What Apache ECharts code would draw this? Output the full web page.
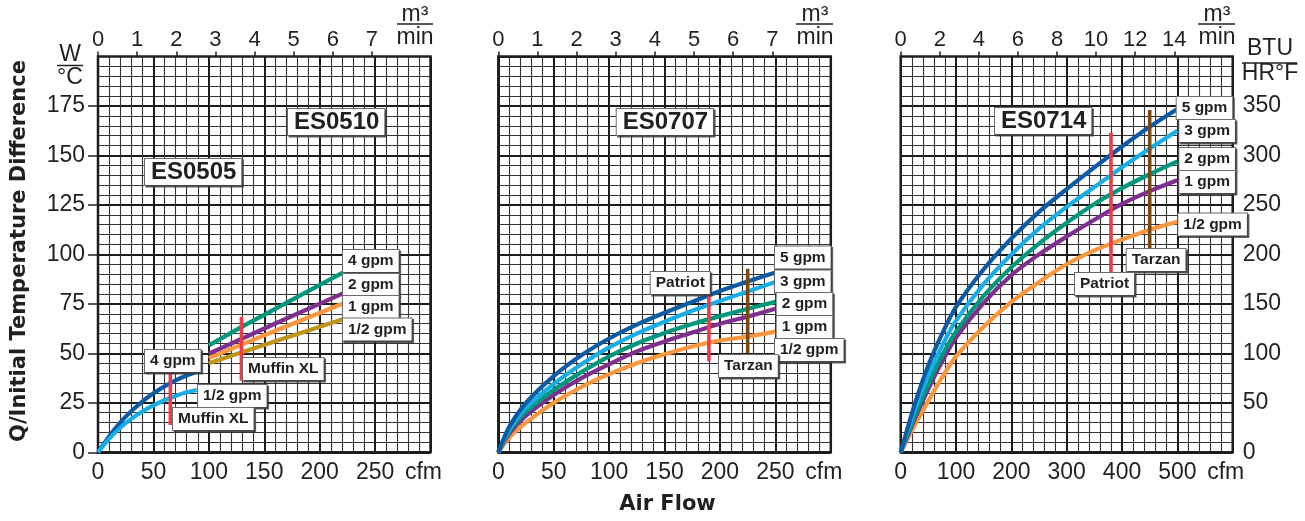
<!DOCTYPE html>
<html><head><meta charset="utf-8">
<script src="https://cdn.jsdelivr.net/npm/echarts@6/dist/echarts.min.js"></script>
<style>html,body{margin:0;padding:0;background:#fff;}#c{width:1305px;height:521px;}</style>
</head><body><div id="c"></div>
<script>
// ---------------- data ----------------
// tick labels
const wTicks   = [0, 25, 50, 75, 100, 125, 150, 175];          // W/°C (left axis)
const btuTicks = [0, 50, 100, 150, 200, 250, 300, 350];        // BTU/HR°F (right axis)
const cfmTicksA = [0, 50, 100, 150, 200, 250];                 // cfm, panels 1-2
const cfmTicksB = [0, 100, 200, 300, 400, 500];                // cfm, panel 3
const m3TicksA = [0, 1, 2, 3, 4, 5, 6, 7];                     // m³/min, panels 1-2
const m3TicksB = [0, 2, 4, 6, 8, 10, 12, 14];                  // m³/min, panel 3

// ES0505 (W/°C vs cfm)
const es0505_4gpm  = [[0,0],[10,8],[20,15],[30,20.7],[40,25.6],[50,29.8],[60,33.3],[70,36.3],[80,38.8],[92,41.3]];
const es0505_half  = [[0,0],[10,6.8],[20,12.4],[30,16.9],[40,20.6],[50,23.7],[60,26.3],[70,28.5],[80,30.3],[89,31.5]];
// ES0510
const es0510_4gpm  = [[100,54],[130,63.5],[160,72.5],[190,81.6],[221,90.8]];
const es0510_2gpm  = [[100,49.8],[160,65.1],[221,80.3]];
const es0510_1gpm  = [[100,47.6],[160,61.4],[221,75.2]];
const es0510_half  = [[100,45],[160,56.1],[221,67.2]];
// ES0707
const es0707_5gpm  = [[0,0],[10,13],[25,25],[50,38.5],[75,49],[100,57.5],[125,64.5],[150,70.5],[175,76],[200,81.5],[225,86.3],[250,90.8]];
const es0707_3gpm  = [[0,0],[10,11.5],[25,22.5],[50,34.5],[75,44.5],[100,53],[125,60],[150,66],[175,71.5],[200,76.5],[225,81.3],[250,86]];
const es0707_2gpm  = [[0,0],[10,10.5],[25,20.5],[50,31.5],[75,40.5],[100,48.5],[125,55],[150,60.3],[175,64.8],[200,68.8],[225,72.5],[250,76]];
const es0707_1gpm  = [[0,0],[10,9.5],[25,18.5],[50,29],[75,37.5],[100,44.5],[125,51],[150,56],[175,60.5],[200,65],[225,68.5],[250,72.5]];
const es0707_half  = [[0,0],[10,7.5],[25,15],[50,25],[75,33],[100,39.5],[125,45],[150,49.5],[175,53.5],[200,56.5],[225,58.5],[250,61]];
// ES0714 (BTU/HR°F vs cfm)
const es0714_5gpm  = [[0,0],[25,48],[50,88],[75,120],[100,147],[150,185],[200,216],[250,243],[300,266],[350,288],[400,309],[450,329],[500,347]];
const es0714_3gpm  = [[0,0],[25,42],[50,78],[75,108],[100,133],[150,170],[200,200],[250,226],[300,248],[350,268],[400,288],[450,307],[500,325]];
const es0714_2gpm  = [[0,0],[25,36],[50,69],[75,98],[100,122],[150,158],[200,187],[250,211],[300,232],[350,251],[400,267],[450,281],[500,294]];
const es0714_1gpm  = [[0,0],[25,33],[50,64],[75,92],[100,116],[150,151],[200,179],[250,200],[300,218],[350,235],[400,251],[450,264],[500,275]];
const es0714_half  = [[0,0],[25,27],[50,52],[75,76],[100,97],[150,127],[200,152],[250,172],[300,190],[350,204],[400,215],[450,225],[500,233]];
// fan models (vertical markers)
const muffinA  = [[65.3,40],[65.3,13.8]];
const muffinB  = [[129.4,68.5],[129.4,36.2]];
const patriotM = [[190,91],[190,46]];
const tarzanM  = [[225,92.7],[225,50]];
const patriotR = [[380,323],[380,182]];
const tarzanR  = [[450,346],[450,206]];

const CFM_PER_M3MIN = 35.3147;

// ---------------- styling ----------------
const TXT = '#231f20';
const SANS = "'Liberation Sans', Arial, Helvetica, sans-serif";
const C = {
  dblue:'#0d5aa5', lblue:'#19ade6', teal:'#00977c', purple:'#7f2f8e',
  orange:'#f8973d', olive:'#bb961a', red:'#ee3b47', brown:'#7a4912'
};
const LBL = {family:SANS, size:15.5};

const grids = [
  {left:98,    top:56.5, width:332.5, height:395.8},
  {left:498.3, top:56.5, width:332.5, height:395.8},
  {left:900.7, top:56.5, width:332,   height:395.8}
].map(g => Object.assign(g, {show:true, borderColor:TXT, borderWidth:2.5, backgroundColor:'transparent', containLabel:false}));

const majorLine = {show:true, lineStyle:{color:'#1e1b1c', width:2}};
const minorLine = {show:true, lineStyle:{color:'#333', width:1.1}};

function bottomX(gi, max, interval, ticks){
  return {type:'value', gridIndex:gi, position:'bottom', min:0, max:max, interval:interval,
    axisLine:{show:false}, axisTick:{show:false},
    splitLine:majorLine, minorTick:{show:false, splitNumber:5}, minorSplitLine:minorLine,
    axisLabel:{customValues: ticks.concat([max]), showMaxLabel:true, color:TXT, fontFamily:SANS, fontSize:23, margin:9,
      formatter: v => v===max ? '{u|cfm}' : String(v),
      rich:{u:{fontFamily:SANS, fontSize:23, color:TXT, padding:[0,14,0,0]}}}};
}
function topX(gi, maxCfm, ticks){
  return {type:'value', gridIndex:gi, position:'top', min:0, max:maxCfm/CFM_PER_M3MIN,
    axisLine:{show:false}, splitLine:{show:false},
    axisTick:{show:true, customValues:ticks, length:5, lineStyle:{color:TXT, width:1.5}},
    axisLabel:{customValues:ticks, color:TXT, fontFamily:SANS, fontSize:22, margin:6}};
}

const xAxis = [
  bottomX(0, 300, 50, cfmTicksA), topX(0, 300, m3TicksA),
  bottomX(1, 300, 50, cfmTicksA), topX(1, 300, m3TicksA),
  bottomX(2, 600, 100, cfmTicksB), topX(2, 600, m3TicksB)
];
const yAxis = [
  {type:'value', gridIndex:0, position:'left', min:0, max:200, interval:25,
    axisLine:{show:false}, splitLine:majorLine, minorTick:{show:false, splitNumber:5}, minorSplitLine:minorLine,
    axisTick:{show:true, customValues:wTicks, length:10, lineStyle:{color:TXT, width:1.5}},
    axisLabel:{customValues:wTicks, color:TXT, fontFamily:SANS, fontSize:23, margin:13}},
  {type:'value', gridIndex:1, position:'left', min:0, max:200, interval:25,
    axisLine:{show:false}, splitLine:majorLine, minorTick:{show:false, splitNumber:5}, minorSplitLine:minorLine,
    axisTick:{show:false}, axisLabel:{show:false}},
  {type:'value', gridIndex:2, position:'right', min:0, max:400, interval:50,
    axisLine:{show:false}, splitLine:majorLine, minorTick:{show:false, splitNumber:5}, minorSplitLine:minorLine,
    axisTick:{show:true, customValues:btuTicks, length:7, lineStyle:{color:TXT, width:1.5}},
    axisLabel:{customValues:btuTicks, color:TXT, fontFamily:SANS, fontSize:23, margin:10}}
];

function curve(name, data, color, gi, smooth){
  return {type:'line', name:name, data:data, xAxisIndex:gi*2, yAxisIndex:gi, symbol:'none',
    smooth: smooth===false ? false : 0.3, silent:true, z:3,
    lineStyle:{color:color, width:4.2, join:'round'}};
}
function marker(name, data, color, gi){
  return {type:'line', name:name, data:data, xAxisIndex:gi*2, yAxisIndex:gi, symbol:'none',
    silent:true, z:4, lineStyle:{color:color, width:3.6, cap:'butt'}};
}

const series = [
  curve('ES0505 4 gpm', es0505_4gpm, C.dblue, 0),
  curve('ES0505 1/2 gpm', es0505_half, C.lblue, 0),
  curve('ES0510 4 gpm', es0510_4gpm, C.teal, 0, false),
  curve('ES0510 2 gpm', es0510_2gpm, C.purple, 0, false),
  curve('ES0510 1 gpm', es0510_1gpm, C.orange, 0, false),
  curve('ES0510 1/2 gpm', es0510_half, C.olive, 0, false),
  marker('Muffin XL A', muffinA, C.red, 0),
  marker('Muffin XL B', muffinB, C.red, 0),

  curve('ES0707 1/2 gpm', es0707_half, C.orange, 1),
  curve('ES0707 1 gpm', es0707_1gpm, C.purple, 1),
  curve('ES0707 2 gpm', es0707_2gpm, C.teal, 1),
  curve('ES0707 3 gpm', es0707_3gpm, C.lblue, 1),
  curve('ES0707 5 gpm', es0707_5gpm, C.dblue, 1),
  marker('Patriot', patriotM, C.red, 1),
  marker('Tarzan', tarzanM, C.brown, 1),

  curve('ES0714 1/2 gpm', es0714_half, C.orange, 2),
  curve('ES0714 1 gpm', es0714_1gpm, C.purple, 2),
  curve('ES0714 2 gpm', es0714_2gpm, C.teal, 2),
  curve('ES0714 3 gpm', es0714_3gpm, C.lblue, 2),
  curve('ES0714 5 gpm', es0714_5gpm, C.dblue, 2),
  marker('Patriot', patriotR, C.red, 2),
  marker('Tarzan', tarzanR, C.brown, 2)
];

// ---------------- annotations ----------------
function box(text, x, y){
  return {type:'text', x:x, y:y, z:100, silent:true, style:{text:text, align:'left', verticalAlign:'middle',
    fontFamily:LBL.family, fontSize:LBL.size, fontWeight:'bold', lineHeight:18, fill:TXT,
    backgroundColor:'#fff', borderColor:'#6a6a6a', borderWidth:1, padding:[2,5,2,5],
    shadowColor:'rgba(60,60,60,0.8)', shadowOffsetX:1.5, shadowOffsetY:1.5, shadowBlur:0}};
}
function bigBox(text, x, y){
  return {type:'text', x:x, y:y, z:100, silent:true, style:{text:text, align:'left', verticalAlign:'middle',
    fontFamily:SANS, fontSize:24, fontWeight:'bold', lineHeight:24, fill:TXT,
    backgroundColor:'#fff', borderColor:'#6a6a6a', borderWidth:1, padding:[1,5,1,6],
    shadowColor:'rgba(60,60,60,0.8)', shadowOffsetX:1.5, shadowOffsetY:1.5, shadowBlur:0}};
}
function plain(text, x, y, size, extra){
  return {type:'text', x:x, y:y, z:100, silent:true, style:Object.assign({text:text, align:'center', verticalAlign:'middle',
    fontFamily:SANS, fontSize:size, fill:TXT}, extra||{})};
}
function frac(top, bottom, cx, yTop, yLine, yBot, x1, x2){
  return [plain(top, cx, yTop, 23), plain(bottom, cx, yBot, 23),
    {type:'line', z:100, silent:true, shape:{x1:x1, y1:yLine, x2:x2, y2:yLine}, style:{stroke:TXT, lineWidth:1.5}}];
}

const graphic = [].concat(
  frac('W', '°C', 70, 55, 65.5, 77.5, 57, 83),
  frac('m³', 'min', 415, 15, 24, 37.5, 397, 433),
  frac('m³', 'min', 815, 15, 24, 37.5, 796, 833),
  frac('m³', 'min', 1217, 15, 24, 37.5, 1198, 1235),
  frac('BTU', 'HR°F', 1270, 49, 63, 73.5, 1242, 1297),
  [
    {type:'text', x:20, y:251, rotation:Math.PI/2, z:100, silent:true,
      style:{text:'Q/Initial Temperature Difference', align:'center', verticalAlign:'middle',
        fontFamily:"'DejaVu Sans', sans-serif", fontWeight:'bold', fontSize:21, fill:TXT}},
    plain('Air Flow', 667.5, 505, 21, {fontFamily:"'DejaVu Sans', sans-serif", fontWeight:'bold'}),
    bigBox('ES0505', 145, 172), bigBox('ES0510', 288, 122),
    bigBox('ES0707', 616.7, 122), bigBox('ES0714', 995, 121),
    box('4 gpm', 343, 261), box('2 gpm', 343, 285), box('1 gpm', 343, 307), box('1/2 gpm', 343, 329.5),
    box('4 gpm', 145, 361), box('1/2 gpm', 198, 396),
    box('Muffin XL', 243, 369), box('Muffin XL', 173, 419),
    box('5 gpm', 775, 257.5), box('3 gpm', 775, 281.5), box('2 gpm', 776.7, 304), box('1 gpm', 776.7, 327), box('1/2 gpm', 775, 350),
    box('Patriot', 650.7, 283), box('Tarzan', 719, 366),
    box('5 gpm', 1176.7, 108), box('3 gpm', 1179.3, 131), box('2 gpm', 1179.3, 159), box('1 gpm', 1179.3, 182), box('1/2 gpm', 1178.3, 224.5),
    box('Tarzan', 1126.7, 260), box('Patriot', 1075, 284)
  ]
);

const chart = echarts.init(document.getElementById('c'), null, {renderer:'canvas'});
chart.setOption({
  animation:false,
  backgroundColor:'#fff',
  grid:grids, xAxis:xAxis, yAxis:yAxis, series:series, graphic:graphic
});
</script></body></html>
